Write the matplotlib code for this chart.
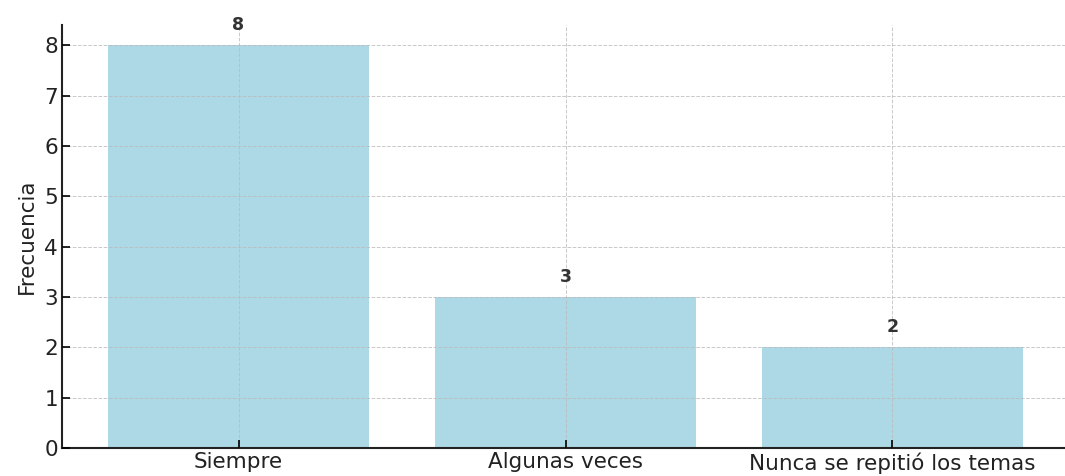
import matplotlib
matplotlib.use("Agg")
import matplotlib.pyplot as plt

categories = ["Siempre", "Algunas veces", "Nunca se repitió los temas"]
values = [8, 3, 2]
yticks = [0, 1, 2, 3, 4, 5, 6, 7, 8]

fig = plt.figure(figsize=(10.65, 4.76), dpi=100)
ax = fig.add_axes([62 / 1065, (476 - 448) / 476, 1007 / 1065, (448 - 25) / 476])

x = list(range(len(categories)))
ax.bar(x, values, width=0.8, color="#ADD8E6", zorder=1)
for xi, v in zip(x, values):
    ax.text(xi, v + 0.22, str(v), ha="center", va="bottom", fontsize=12.5,
            fontweight="bold", color="#333333")

ax.set_xticks(x)
ax.set_xticklabels(categories, fontsize=15.5, color="#222222")
ax.set_yticks(yticks)
ax.set_yticklabels([str(t) for t in yticks], fontsize=15.5, color="#222222")
ax.set_ylabel("Frecuencia", fontsize=15.5, color="#222222", labelpad=5)
ax.set_xlim(-0.54, 2.54)
ax.set_ylim(0, 8.4)

ax.grid(True, linestyle="--", color="#bbbbbb", linewidth=0.7, alpha=0.8, zorder=2)
ax.set_axisbelow(False)
ax.tick_params(direction="in", length=6, width=1.2, pad=3)
for s in ["top", "right"]:
    ax.spines[s].set_visible(False)
for s in ["left", "bottom"]:
    ax.spines[s].set_linewidth(1.5)
    ax.spines[s].set_color("#222222")

fig.savefig("out.png", dpi=100)
